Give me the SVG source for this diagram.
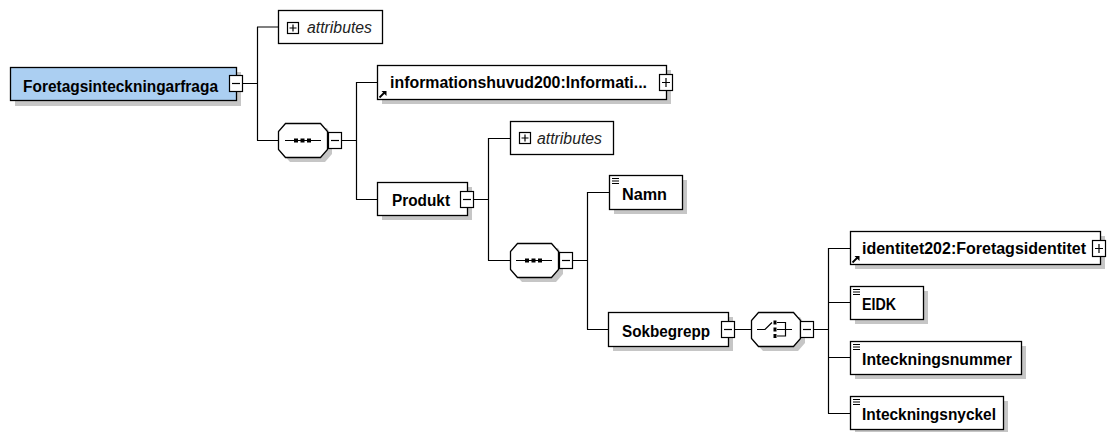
<svg xmlns="http://www.w3.org/2000/svg" width="1107" height="432" viewBox="0 0 1107 432">
<defs>
<style>
.bx{fill:#fff;stroke:#000;stroke-width:1.3}
.root{fill:#abcff2;stroke:#000;stroke-width:1.3}
.sh{fill:#c6c6c6}
.pm{fill:#fff;stroke:#000;stroke-width:1.2}
.pml{stroke:#000;stroke-width:1.2;fill:none}
.t{font-family:"Liberation Sans",Arial,sans-serif;font-weight:bold;font-size:16px;fill:#000}
.at{font-family:"Liberation Sans",Arial,sans-serif;font-style:italic;font-size:16px;fill:#222}
.ln{stroke:#000;stroke-width:1.2;fill:none}
.ic{stroke:#000;stroke-width:1.2;fill:none}
</style>
</defs>
<g id="connectors" class="ln">
<path d="M242,83.5H257.5M257.5,27V140.5M257,27H278M257,140.5H278"/>
<path d="M342,140.5H356.5M356.5,82V199.5M356,82.5H377M356,199.5H377"/>
<path d="M474,199.5H488.5M488.5,138V260.5M488,138.5H510M488,260.5H510"/>
<path d="M573,260.5H587.5M587.5,192V329.5M587,192.5H609M587,329.5H608"/>
<path d="M735,329.5H751M814,329.5H828.5M828.5,248V413.5M828,248.5H850M828,302.5H850M828,357.5H850M828,413.5H850"/>
</g>
<g id="root">
<rect class="sh" x="15" y="72" width="226" height="34"/>
<rect class="root" x="10.5" y="67.5" width="226" height="33"/>
<rect class="pm" x="229.5" y="75.5" width="13" height="16"/>
<path class="pml" d="M232,83.5H240"/>
<text class="t" x="23" y="92" textLength="195" lengthAdjust="spacingAndGlyphs">Foretagsinteckningarfraga</text>
</g>
<g id="attributes1">
<rect class="bx" x="278.5" y="10.5" width="104" height="33"/>
<rect class="pm" x="287.5" y="22.5" width="11" height="11"/>
<path class="pml" d="M289.5,28H296.5M293,24.5V31.5"/>
<text class="at" x="307" y="33" textLength="65" lengthAdjust="spacingAndGlyphs">attributes</text>
</g>
<g id="sequence1">
<path class="sh" d="M290,128H327L332,136V154L325,162H290L283,154V136Z"/>
<path class="bx" d="M285.5,123.5H320.5L327.5,131.5V149.5L320.5,157.5H285.5L278.5,149.5V131.5Z"/>
<path class="ic" d="M285,140.5H321"/>
<rect x="294" y="138.5" width="4" height="4"/>
<rect x="300.5" y="138.5" width="4" height="4"/>
<rect x="307" y="138.5" width="4" height="4"/>
<rect class="pm" x="328.5" y="132.5" width="13" height="16"/>
<path class="pml" d="M331,140.5H339"/>
</g>
<g id="informationshuvud">
<rect class="sh" x="382" y="70" width="289" height="34"/>
<rect class="bx" x="377.5" y="65.5" width="289" height="34"/>
<path d="M379.5,97.5L384.5,92.5" stroke="#000" stroke-width="1.8"/>
<path d="M381.5,91H386.5V96Z" fill="#000"/>
<text class="t" x="390" y="88" textLength="257" lengthAdjust="spacingAndGlyphs">informationshuvud200:Informati...</text>
<rect class="pm" x="659.5" y="74.5" width="13" height="16"/>
<path class="pml" d="M662,82.5H670M666,78V87"/>
</g>
<g id="produkt">
<rect class="sh" x="382" y="187" width="90" height="33"/>
<rect class="bx" x="377.5" y="182.5" width="90" height="33"/>
<text class="t" x="392" y="206" textLength="58" lengthAdjust="spacingAndGlyphs">Produkt</text>
<rect class="pm" x="460.5" y="191.5" width="13" height="16"/>
<path class="pml" d="M463,199.5H471"/>
</g>
<g id="attributes2">
<rect class="bx" x="510.5" y="121.5" width="103" height="33"/>
<rect class="pm" x="519.5" y="132.5" width="11" height="11"/>
<path class="pml" d="M521.5,138H528.5M525,134.5V141.5"/>
<text class="at" x="537" y="144" textLength="65" lengthAdjust="spacingAndGlyphs">attributes</text>
</g>
<g id="sequence2">
<path class="sh" d="M522,248H558L563,256V274L556,282H522L515,274V256Z"/>
<path class="bx" d="M517.5,243.5H551.5L558.5,251.5V269.5L551.5,277.5H517.5L510.5,269.5V251.5Z"/>
<path class="ic" d="M516,260.5H552"/>
<rect x="525" y="258.5" width="4" height="4"/>
<rect x="531.5" y="258.5" width="4" height="4"/>
<rect x="538" y="258.5" width="4" height="4"/>
<rect class="pm" x="559.5" y="252.5" width="13" height="16"/>
<path class="pml" d="M562,260.5H570"/>
</g>
<g id="namn">
<rect class="sh" x="614" y="180" width="73" height="34"/>
<rect class="bx" x="609.5" y="175.5" width="73" height="34"/>
<path class="ic" d="M612,178.5H619M612,181H619M612,183.5H619"/>
<text class="t" x="622" y="200" textLength="45" lengthAdjust="spacingAndGlyphs">Namn</text>
</g>
<g id="sokbegrepp">
<rect class="sh" x="613" y="317" width="120" height="34"/>
<rect class="bx" x="608.5" y="312.5" width="120" height="34"/>
<text class="t" x="622" y="337" textLength="88" lengthAdjust="spacingAndGlyphs">Sokbegrepp</text>
<rect class="pm" x="721.5" y="321.5" width="13" height="16"/>
<path class="pml" d="M724,329.5H732"/>
</g>
<g id="choice">
<path class="sh" d="M763,317H800L805,325V343L798,351H763L756,343V325Z"/>
<path class="bx" d="M758.5,312.5H793.5L800.5,320.5V338.5L793.5,346.5H758.5L751.5,338.5V320.5Z"/>
<path class="ic" d="M757,329.5H765L772,322.5M777,322.5H785.5V336H777M777,329.5H792"/>
<rect x="773.5" y="320.5" width="3" height="4"/>
<rect x="773.5" y="327.5" width="3" height="4"/>
<rect x="773.5" y="334" width="3" height="4"/>
<rect class="pm" x="800.5" y="321.5" width="13" height="16"/>
<path class="pml" d="M803,329.5H811"/>
</g>
<g id="identitet">
<rect class="sh" x="855" y="236" width="250" height="33"/>
<rect class="bx" x="850.5" y="231.5" width="250" height="33"/>
<path d="M852.5,262.5L857.5,257.5" stroke="#000" stroke-width="1.8"/>
<path d="M854.5,256H859.5V261Z" fill="#000"/>
<text class="t" x="862" y="254" textLength="224" lengthAdjust="spacingAndGlyphs">identitet202:Foretagsidentitet</text>
<rect class="pm" x="1092.5" y="240.5" width="13" height="16"/>
<path class="pml" d="M1095,248.5H1103M1099,244V253"/>
</g>
<g id="eidk">
<rect class="sh" x="855" y="291" width="73" height="33"/>
<rect class="bx" x="850.5" y="286.5" width="73" height="33"/>
<path class="ic" d="M853,289.5H860M853,292H860M853,294.5H860"/>
<text class="t" x="862" y="310" textLength="34" lengthAdjust="spacingAndGlyphs">EIDK</text>
</g>
<g id="inteckningsnummer">
<rect class="sh" x="855" y="346" width="171" height="33"/>
<rect class="bx" x="850.5" y="341.5" width="171" height="33"/>
<path class="ic" d="M853,344.5H860M853,347H860M853,349.5H860"/>
<text class="t" x="862" y="365" textLength="150" lengthAdjust="spacingAndGlyphs">Inteckningsnummer</text>
</g>
<g id="inteckningsnyckel">
<rect class="sh" x="855" y="401" width="153" height="33"/>
<rect class="bx" x="850.5" y="396.5" width="153" height="33"/>
<path class="ic" d="M853,399.5H860M853,402H860M853,404.5H860"/>
<text class="t" x="862" y="420" textLength="134" lengthAdjust="spacingAndGlyphs">Inteckningsnyckel</text>
</g>
</svg>
